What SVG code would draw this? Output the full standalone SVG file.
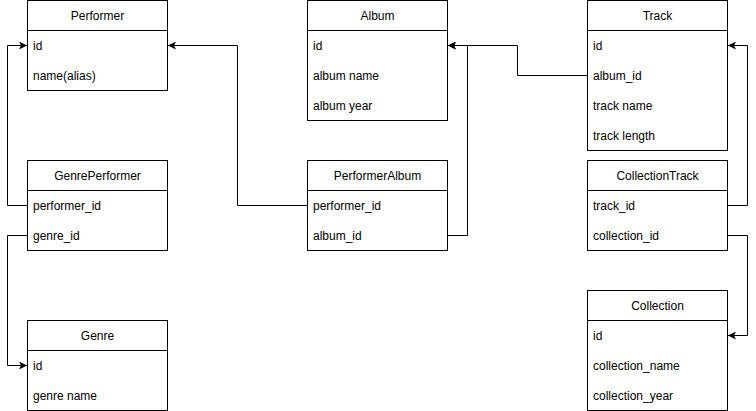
<svg xmlns="http://www.w3.org/2000/svg" width="756" height="411" viewBox="0 0 756 411">
<defs>
<style>
.box{fill:#fff;stroke:#000;stroke-width:1}
.sep{stroke:#000;stroke-width:1}
.t{font-family:"Liberation Sans",Arial,sans-serif;font-size:12px;fill:#000}
.h{text-anchor:middle}
.c{fill:none;stroke:#000;stroke-width:1}
</style>
<marker id="arr" viewBox="0 0 8 8" refX="8" refY="4" markerWidth="8" markerHeight="8" markerUnits="userSpaceOnUse" orient="auto">
<path d="M0,0 L8,4 L0,8 L2,4 z" fill="#000"/>
</marker>
</defs>
<rect width="756" height="411" fill="#fff"/>
<g id="connectors">
<path class="c" d="M27.5,205.5 H7.5 V45.5 H27" marker-end="url(#arr)"/>
<path class="c" d="M27.5,235.5 H7.5 V365.5 H27" marker-end="url(#arr)"/>
<path class="c" d="M307.5,205.5 H237.5 V45.5 H168" marker-end="url(#arr)"/>
<path class="c" d="M447.5,235.5 H467.5 V45.5 H448" marker-end="url(#arr)"/>
<path class="c" d="M587.5,75.5 H517.5 V45.5 H448" marker-end="url(#arr)"/>
<path class="c" d="M727.5,205.5 H747.5 V45.5 H728" marker-end="url(#arr)"/>
<path class="c" d="M727.5,235.5 H747.5 V335.5 H728" marker-end="url(#arr)"/>
</g>
<g id="Performer">
<rect class="box" x="27.5" y="0.5" width="140" height="90"/>
<line class="sep" x1="27.5" y1="30.5" x2="167.5" y2="30.5"/>
<text class="t h" x="97.5" y="20">Performer</text>
<text class="t" x="33" y="50">id</text>
<text class="t" x="33" y="80">name(alias)</text>
</g>
<g id="Album">
<rect class="box" x="307.5" y="0.5" width="140" height="120"/>
<line class="sep" x1="307.5" y1="30.5" x2="447.5" y2="30.5"/>
<text class="t h" x="377.5" y="20">Album</text>
<text class="t" x="313" y="50">id</text>
<text class="t" x="313" y="80">album name</text>
<text class="t" x="313" y="110">album year</text>
</g>
<g id="Track">
<rect class="box" x="587.5" y="0.5" width="140" height="150"/>
<line class="sep" x1="587.5" y1="30.5" x2="727.5" y2="30.5"/>
<text class="t h" x="657.5" y="20">Track</text>
<text class="t" x="593" y="50">id</text>
<text class="t" x="593" y="80">album_id</text>
<text class="t" x="593" y="110">track name</text>
<text class="t" x="593" y="140">track length</text>
</g>
<g id="GenrePerformer">
<rect class="box" x="27.5" y="160.5" width="140" height="90"/>
<line class="sep" x1="27.5" y1="190.5" x2="167.5" y2="190.5"/>
<text class="t h" x="97.5" y="180">GenrePerformer</text>
<text class="t" x="33" y="210">performer_id</text>
<text class="t" x="33" y="240">genre_id</text>
</g>
<g id="PerformerAlbum">
<rect class="box" x="307.5" y="160.5" width="140" height="90"/>
<line class="sep" x1="307.5" y1="190.5" x2="447.5" y2="190.5"/>
<text class="t h" x="377.5" y="180">PerformerAlbum</text>
<text class="t" x="313" y="210">performer_id</text>
<text class="t" x="313" y="240">album_id</text>
</g>
<g id="CollectionTrack">
<rect class="box" x="587.5" y="160.5" width="140" height="90"/>
<line class="sep" x1="587.5" y1="190.5" x2="727.5" y2="190.5"/>
<text class="t h" x="657.5" y="180">CollectionTrack</text>
<text class="t" x="593" y="210">track_id</text>
<text class="t" x="593" y="240">collection_id</text>
</g>
<g id="Genre">
<rect class="box" x="27.5" y="320.5" width="140" height="90"/>
<line class="sep" x1="27.5" y1="350.5" x2="167.5" y2="350.5"/>
<text class="t h" x="97.5" y="340">Genre</text>
<text class="t" x="33" y="370">id</text>
<text class="t" x="33" y="400">genre name</text>
</g>
<g id="Collection">
<rect class="box" x="587.5" y="290.5" width="140" height="120"/>
<line class="sep" x1="587.5" y1="320.5" x2="727.5" y2="320.5"/>
<text class="t h" x="657.5" y="310">Collection</text>
<text class="t" x="593" y="340">id</text>
<text class="t" x="593" y="370">collection_name</text>
<text class="t" x="593" y="400">collection_year</text>
</g>
</svg>
